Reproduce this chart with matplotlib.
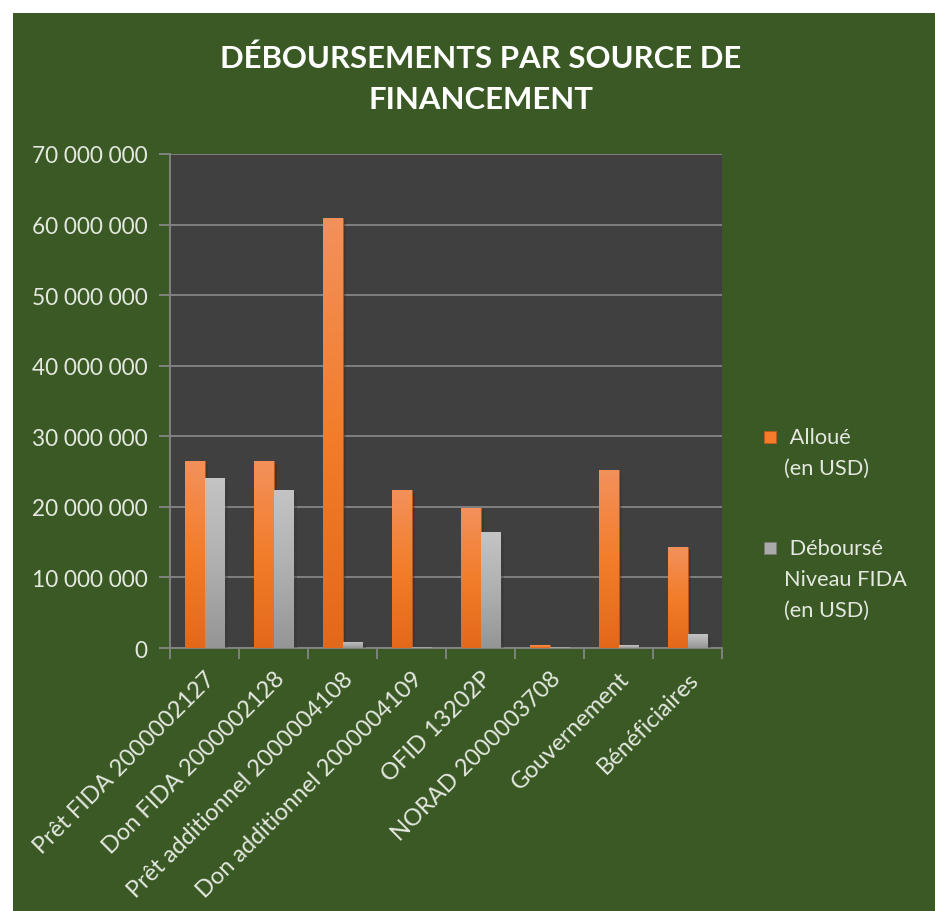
import numpy as np
import matplotlib
matplotlib.use("Agg")
import matplotlib.pyplot as plt
from matplotlib.patches import Rectangle
from matplotlib.colors import LinearSegmentedColormap
from matplotlib.ticker import FuncFormatter, FixedLocator
import matplotlib.patheffects as pe

plt.rcParams['font.family'] = ['Lato', 'DejaVu Sans']

# data
categories = ["Prêt FIDA 2000002127", "Don FIDA 2000002128", "Prêt additionnel 2000004108",
              "Don additionnel 2000004109", "OFID 13202P", "NORAD 2000003708",
              "Gouvernement", "Bénéficiaires"]
alloue = [26500000, 26500000, 61000000, 22400000, 19900000, 400000, 25200000, 14300000]
debourse = [24100000, 22400000, 900000, 200000, 16400000, 200000, 400000, 2000000]
y_ticks = [0, 10000000, 20000000, 30000000, 40000000, 50000000, 60000000, 70000000]

green = "#3a5924"
text_col = "#e4e8e0"

fig = plt.figure(figsize=(9.35, 9.12), dpi=100, facecolor="white")
fig.patches.append(Rectangle((13 / 935, 0), 1, 1 - 14 / 912, transform=fig.transFigure,
                             facecolor=green, edgecolor="none", zorder=-10))

ax = fig.add_axes([170 / 935, 1 - 649 / 912, 552 / 935, 494 / 912])
ax.set_facecolor("#404040")

x = np.arange(len(categories))
w = 0.285
b1 = ax.bar(x - w / 2, alloue, w, color="#f47c2a", edgecolor="#b85a1c", linewidth=0.6, zorder=3)
b2 = ax.bar(x + w / 2, debourse, w, color="#aaaaaa", edgecolor="#7a7a7a", linewidth=0.6, zorder=3)

cm_orange = LinearSegmentedColormap.from_list("o", ["#e2691a", "#f37d2b", "#f2915c"])
cm_gray = LinearSegmentedColormap.from_list("g", ["#959595", "#b0b0b0", "#c4c4c4"])
grad = np.linspace(0, 1, 256).reshape(-1, 1)

# gradient fill + soft shadow on each bar
for bars, cm in ((b1, cm_orange), (b2, cm_gray)):
    for p in bars:
        p.set_path_effects([pe.SimplePatchShadow(offset=(2.5, -2), alpha=0.35), pe.Normal()])
        if p.get_height() <= 0:
            continue
        x0, y0 = p.get_x(), p.get_y()
        im = ax.imshow(grad, cmap=cm, aspect="auto", origin="lower",
                       extent=(x0, x0 + p.get_width(), y0, y0 + p.get_height()), zorder=4)
        im.set_clip_path(p)

ax.set_xlim(-0.5, len(categories) - 0.5)
ax.set_ylim(0, 70000000)
ax.set_yticks(y_ticks)
ax.yaxis.set_major_formatter(FuncFormatter(lambda v, _: f"{int(v):,}".replace(",", " ")))
ax.grid(axis="y", color="#858585", linewidth=1.3, zorder=1)
ax.set_axisbelow(True)

ax.set_xticks(x)
ax.set_xticklabels(categories, rotation=45, ha="right", va="top", rotation_mode="anchor")
ax.xaxis.set_minor_locator(FixedLocator(np.arange(-0.5, len(categories), 1.0)))
ax.tick_params(axis="x", which="major", length=0, pad=14, labelsize=17, labelcolor=text_col)
ax.tick_params(axis="x", which="minor", length=8, width=1.3, color="#858585")
ax.tick_params(axis="y", length=8, width=1.3, color="#858585", pad=8, labelsize=16.3, labelcolor=text_col)

for s in ("top", "right"):
    ax.spines[s].set_visible(False)
for s in ("left", "bottom"):
    ax.spines[s].set_color("#858585")
    ax.spines[s].set_linewidth(1.3)

fig.text(481 / 935, 1 - 79 / 912, "DÉBOURSEMENTS PAR SOURCE DE\nFINANCEMENT", ha="center", va="center",
         color="white", fontsize=22.4, fontweight="bold", linespacing=1.55)

# legend, drawn by hand so the key sits beside the first line
leg = [("#f47c2a", "#b85a1c", 438, [" Alloué", "(en USD)"]),
       ("#aaaaaa", "#7a7a7a", 549, [" Déboursé", "Niveau FIDA", "(en USD)"])]
for fc, ec, ytop, lines in leg:
    fig.patches.append(Rectangle((764 / 935, 1 - (ytop + 6) / 912), 12 / 935, 12 / 912,
                                 transform=fig.transFigure, facecolor=fc, edgecolor=ec, linewidth=0.6))
    for i, t in enumerate(lines):
        fig.text(784 / 935, 1 - (ytop + i * 31) / 912, t, ha="left", va="center",
                 color=text_col, fontsize=15.7)

fig.savefig("out.png", dpi=100, facecolor=fig.get_facecolor())
